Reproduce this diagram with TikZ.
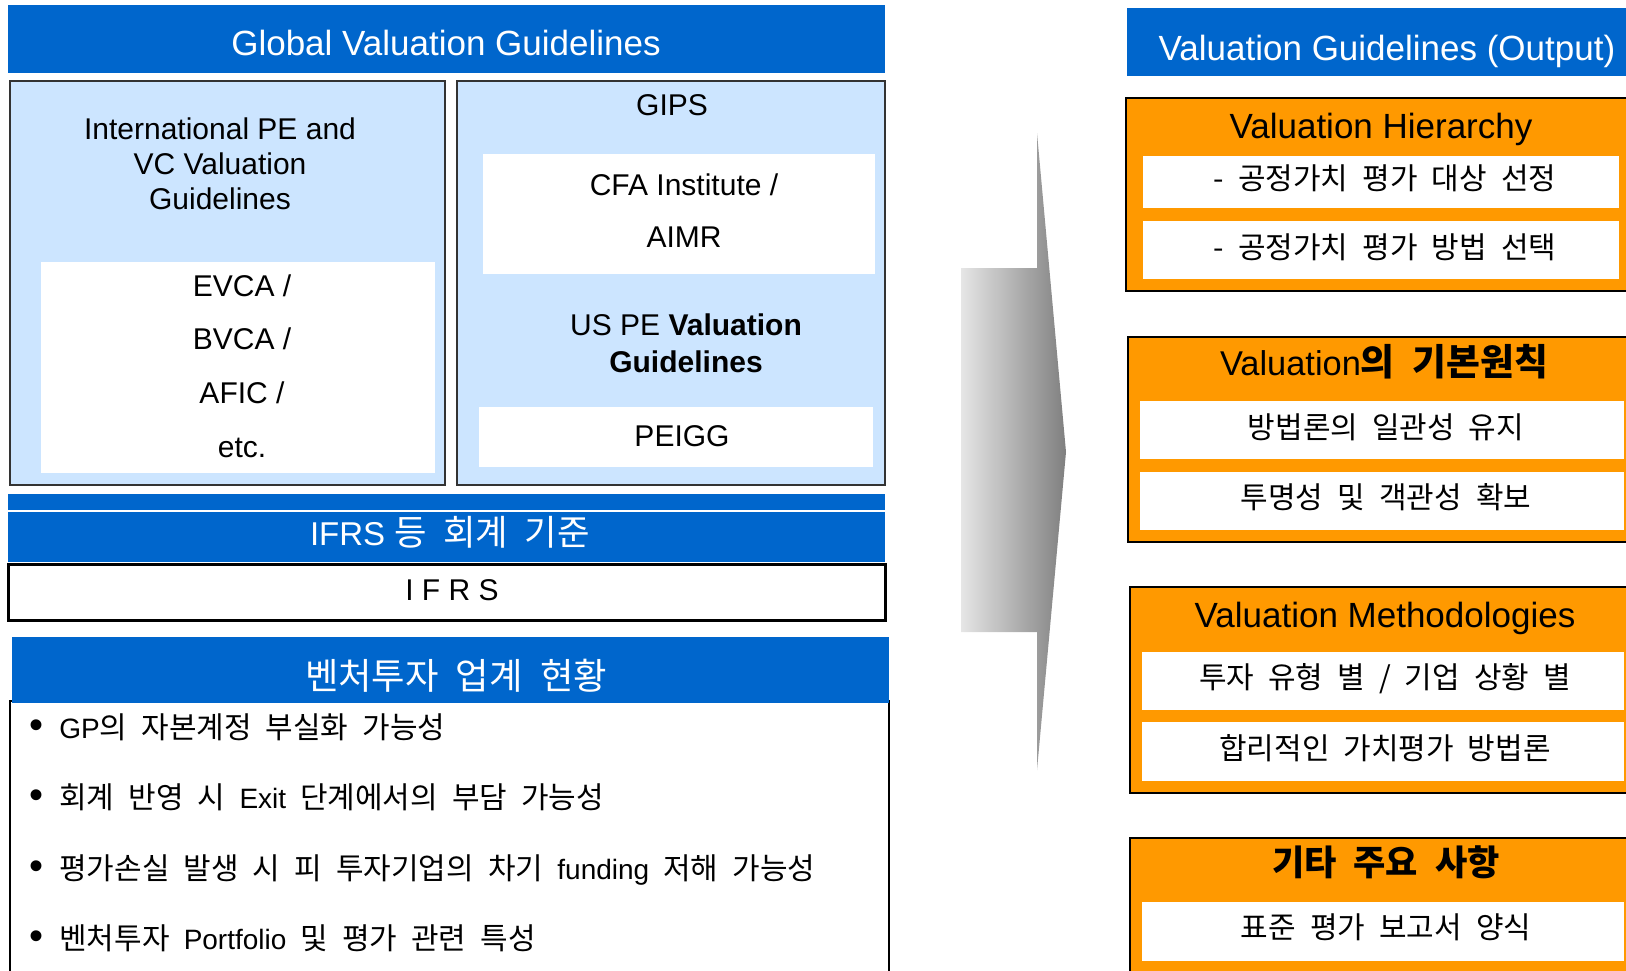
\documentclass[tikz,border=0pt]{standalone}
\usepackage{fontspec}
\setmainfont{Liberation Sans}
\newfontfamily\kr{Noto Sans CJK KR}[Scale=1.07, WordSpace=2.1]
\newcommand{\ko}[1]{{\kr #1}}
\newcommand{\bul}{{\fontsize{20}{17}\selectfont\textbullet}\hspace{8pt}}
\definecolor{gblue}{HTML}{0066CC}
\definecolor{lblue}{HTML}{CCE5FF}
\definecolor{gorange}{HTML}{FF9900}

\begin{document}
\begin{tikzpicture}[x=0.5pt, y=-0.5pt,
	bar/.style = {fill=gblue},
	panel/.style = {fill=lblue, draw=black!80, line width=1pt},
	obox/.style = {fill=gorange, draw=black, line width=1pt},
	bartitle/.style = {anchor=base, text=white, font=\fontsize{17.5}{21}\selectfont},
	otitle/.style = {anchor=base, font=\fontsize{17.5}{21}\selectfont},
	ptext/.style = {align=center, font=\fontsize{15}{17.5}\selectfont},
	entry/.style = {anchor=base, font=\fontsize{14}{17}\selectfont},
	bullet/.style = {anchor=base west, inner sep=0pt, font=\fontsize{14}{17}\selectfont}]
	\useasboundingbox (0,0) rectangle (1626,970);
	\clip (0,0) rectangle (1626,970);

	% global guidelines
	\fill[bar] (8,5) rectangle (885,73);
	\node[bartitle] (global) at (446,55) {Global Valuation Guidelines};

	\draw[panel] (10,81) rectangle (445,485);
	\fill[white] (41,262) rectangle (435,473);
	\node[ptext] (intl) at (220,164) {International PE and\\VC Valuation\\Guidelines};
	\node[ptext, font=\fontsize{15}{26.85}\selectfont] (evca) at (242,366) {EVCA /\\BVCA /\\AFIC /\\etc.};

	\draw[panel] (457,81) rectangle (885,485);
	\node[ptext, anchor=base] (gips) at (672,115) {GIPS};
	\fill[white] (483,154) rectangle (875,274);
	\node[ptext, font=\fontsize{15}{26}\selectfont] (cfa) at (684,211) {CFA Institute /\\AIMR};
	\node[ptext, font=\fontsize{15}{18.5}\selectfont] (uspe) at (686,343) {US PE \textbf{Valuation}\\\textbf{Guidelines}};
	\fill[white] (479,407) rectangle (873,467);
	\node[ptext, anchor=base] (peigg) at (682,446) {PEIGG};

	% accounting standards
	\fill[bar] (8,494) rectangle (885,562);
	\draw[white, line width=0.75pt] (8,511) -- (885,511);
	\node[bartitle, font=\fontsize{16.5}{20}\selectfont] (ifrsstd) at (450,545) {IFRS \ko{등 회계 기준}};
	\draw[line width=1.5pt] (8,564) rectangle (885,620);
	\node[ptext, anchor=base] (ifrs) at (452,600) {I F R S};

	% venture industry
	\draw[line width=1pt] (10,701) rectangle (889,1000);
	\fill[bar] (12,637) rectangle (889,703);
	\node[bartitle, font=\fontsize{17}{21}\selectfont] (venture) at (456,689) {\ko{벤처투자 업계 현황}};
	\node[bullet] (issue1) at (29,738) {\bul GP\ko{의 자본계정 부실화 가능성}};
	\node[bullet] (issue2) at (29,808) {\bul\ko{회계 반영 시 }Exit\ko{ 단계에서의 부담 가능성}};
	\node[bullet] (issue3) at (29,879) {\bul\ko{평가손실 발생 시 피 투자기업의 차기 }funding\ko{ 저해 가능성}};
	\node[bullet] (issue4) at (29,949) {\bul\ko{벤처투자 }Portfolio\ko{ 및 평가 관련 특성}};

	\shade[left color=black!10, right color=black!50] (961,268) -- (1037,268) -- (1037,133) -- (1066,452) -- (1037,770) -- (1037,632) -- (961,632) -- cycle;

	% output
	\fill[bar] (1127,8) rectangle (1640,76);
	\node[bartitle] (output) at (1387,60) {Valuation Guidelines (Output)};

	\draw[obox] (1126,98) rectangle (1640,291);
	\node[otitle] (hier) at (1381,138) {Valuation Hierarchy};
	\fill[white] (1143,156) rectangle (1619,208);
	\fill[white] (1143,221) rectangle (1619,279);
	\node[entry] (hier1) at (1385,189) {\ko{- 공정가치 평가 대상 선정}};
	\node[entry] (hier2) at (1385,258) {\ko{- 공정가치 평가 방법 선택}};

	\draw[obox] (1128,337) rectangle (1640,542);
	\node[otitle, font=\fontsize{17.2}{21}\selectfont] (basic) at (1384,375) {Valuation\ko{\bfseries 의 기본원칙}};
	\fill[white] (1140,401) rectangle (1624,459);
	\fill[white] (1140,472) rectangle (1624,530);
	\node[entry] (basic1) at (1386,438) {\ko{방법론의 일관성 유지}};
	\node[entry] (basic2) at (1386,508) {\ko{투명성 및 객관성 확보}};

	\draw[obox] (1130,587) rectangle (1640,793);
	\node[otitle] (method) at (1385,627) {Valuation Methodologies};
	\fill[white] (1142,652) rectangle (1624,710);
	\fill[white] (1142,722) rectangle (1624,781);
	\node[entry] (method1) at (1385,688) {\ko{투자 유형 별 / 기업 상황 별}};
	\node[entry] (method2) at (1385,759) {\ko{합리적인 가치평가 방법론}};

	\draw[obox] (1130,838) rectangle (1640,1000);
	\node[otitle, font=\fontsize{16.4}{20}\selectfont] (other) at (1386,875) {\ko{\bfseries 기타 주요 사항}};
	\fill[white] (1142,902) rectangle (1624,961);
	\node[entry] (other1) at (1386,938) {\ko{표준 평가 보고서 양식}};
\end{tikzpicture}
\end{document}
